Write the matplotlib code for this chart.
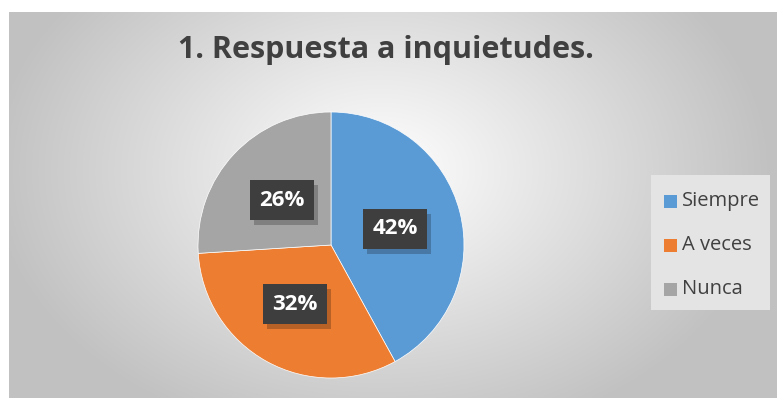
import matplotlib.pyplot as plt
import numpy as np
from matplotlib.patches import Rectangle

categories = ["Siempre", "A veces", "Nunca"]
values = [42, 32, 26]
colors = ["#5b9bd5", "#ed7d31", "#a5a5a5"]
title = "1. Respuesta a inquietudes."

W, H = 777, 401
fig = plt.figure(figsize=(W / 100, H / 100), dpi=100)

# background: white margin, then gray radial gradient chart area
bg = fig.add_axes([0, 0, 1, 1])
bg.set_xlim(0, W)
bg.set_ylim(H, 0)
bg.axis("off")
x0, y0, x1, y1 = 9, 12, 777, 398
yy, xx = np.mgrid[y0:y1, x0:x1]
d = np.sqrt(((xx - 380) / 420.0) ** 2 + ((yy - 170) / 300.0) ** 2)
g = np.clip(1.0 - 0.26 * d, 0.76, 1.0)
img = np.dstack([g, g, g])
bg.imshow(img, extent=[x0, x1, y1, y0], aspect="auto", interpolation="bilinear")

fig.text(386 / W, 1 - 50 / H, title, ha="center", va="center",
         fontsize=22, fontweight="bold", color="#404040", family="Open Sans")

# pie
cx, cy, r = 331, 245, 133
ax = fig.add_axes([(cx - r) / W, 1 - (cy + r) / H, 2 * r / W, 2 * r / H])
wedges, _ = ax.pie(values, colors=colors, startangle=90, counterclock=False,
                   wedgeprops=dict(linewidth=0.5, edgecolor="white"))
ax.set_xlim(-1.0, 1.0)
ax.set_ylim(-1.0, 1.0)
ax.set_aspect("auto")

label_pos = [(395, 229), (295, 304), (282, 200)]
for v, (lx, ly) in zip(values, label_pos):
    fx, fy = lx / W, 1 - ly / H
    bw, bh = 64 / W, 40 / H
    fig.patches.append(Rectangle((fx - bw / 2 + 4 / W, fy - bh / 2 - 5 / H), bw, bh,
                                 transform=fig.transFigure, facecolor="#000000",
                                 alpha=0.22, linewidth=0))
    fig.patches.append(Rectangle((fx - bw / 2, fy - bh / 2), bw, bh,
                                 transform=fig.transFigure, facecolor="#3e3e3e",
                                 linewidth=0))
    fig.text(fx, fy, f"{v}%", ha="center", va="center", fontsize=16,
             fontweight="bold", color="white", family="Open Sans")

# legend
bg.add_patch(Rectangle((651, 175), 119, 135, facecolor="#e4e4e4", edgecolor="none"))
for i, (c, lab) in enumerate(zip(colors, categories)):
    ly = 201 + i * 44
    bg.add_patch(Rectangle((664, ly - 6), 13, 13, facecolor=c, edgecolor="none"))
    bg.text(682, ly, lab, ha="left", va="center", fontsize=14.5,
            color="#404040", family="Open Sans")

fig.savefig("out.png", dpi=100)
